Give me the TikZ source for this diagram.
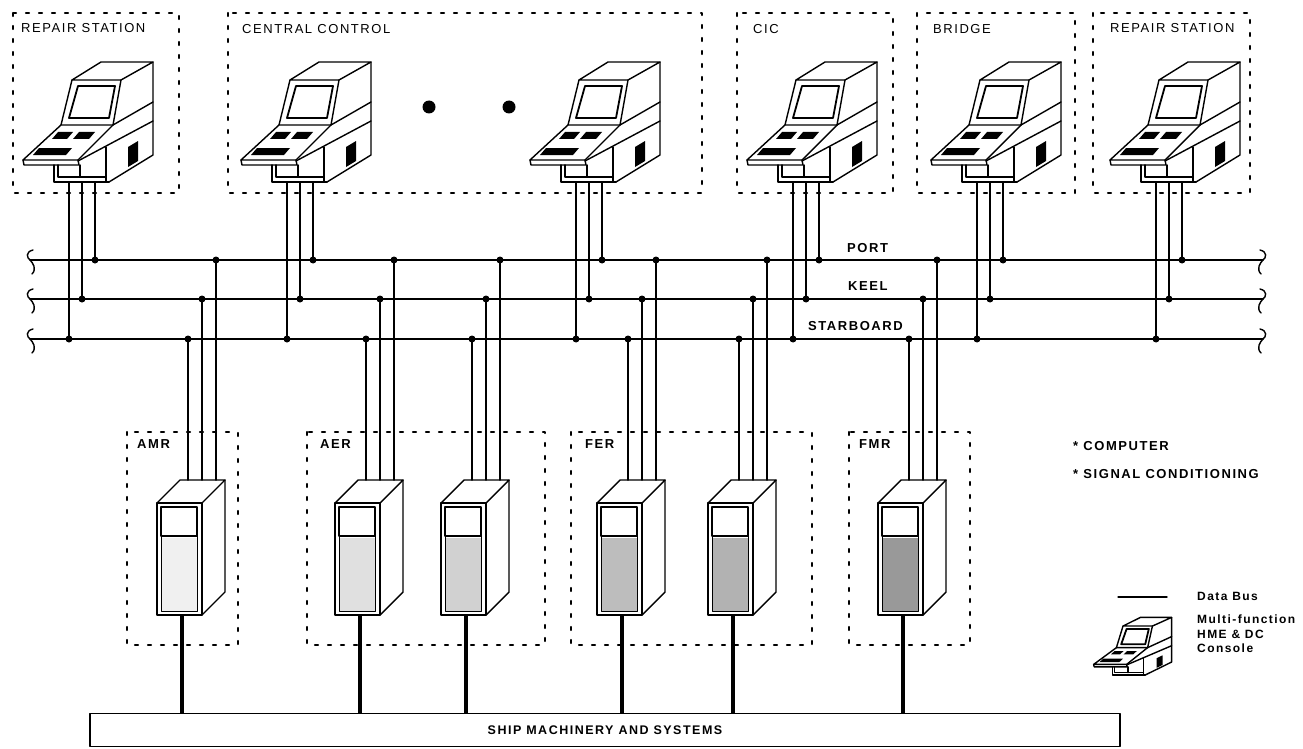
\documentclass[tikz,border=0pt]{standalone}
\usepackage{fontspec}
\setmainfont{Liberation Sans}
\newfontfamily\spaced[LetterSpace=12]{Liberation Sans}
\begin{document}
\begin{tikzpicture}[x=1pt,y=-1pt,line cap=round,line join=round,font=\spaced\fontsize{13}{15}\selectfont]
    \tikzstyle{con}=[line width=1.4pt]
    \tikzstyle{wire}=[line width=1.7pt]
    \tikzstyle{bus}=[line width=1.7pt]
    \tikzstyle{feed}=[line width=4.5pt,line cap=butt]
    \tikzstyle{zone}=[line width=2.2pt,dash pattern=on 3pt off 10pt]
    \tikzstyle{lbl}=[inner sep=0pt,anchor=base west]
    \tikzstyle{blbl}=[lbl,font=\spaced\bfseries\fontsize{13}{15}\selectfont]
    \tikzstyle{sblbl}=[lbl,font=\spaced\bfseries\fontsize{12}{14.5}\selectfont]
    \tikzset{
      console/.pic={
        % hood and screen
        \draw[con] (-10,-102) -- (19,-120) -- (71,-120) -- (39,-102) -- cycle;
        \draw[con] (-10,-102) -- (-21,-57) -- (31,-57) -- (39,-102);
        \draw[con,line width=1.8pt] (-4,-96) -- (33,-96) -- (27,-64) -- (-13,-64) -- cycle;
        % side and body
        \draw[con] (71,-120) -- (71,-27) -- (27,0);
        \draw[con] (31,-57) -- (71,-80);
        \draw[con] (-4,-21) -- (71,-61);
        \draw[con] (24,-35) -- (24,0);
        % desk
        \draw[con] (-21,-57) -- (-59,-22) -- (-4,-22) -- (31,-57);
        \draw[con] (-59,-22) -- (-58,-17) -- (-3,-17) -- (-4,-22);
        \fill (-24,-50) -- (-9,-50) -- (-15,-43) -- (-30,-43) -- cycle;
        \fill (-3,-50) -- (13,-50) -- (7,-43) -- (-9,-43) -- cycle;
        \fill (-43,-34) -- (-10,-34) -- (-16,-27) -- (-49,-27) -- cycle;
        % pedestal
        \draw[con] (-28,-17) -- (-28,0) -- (27,0);
        \draw[con] (-24,-17) -- (-24,-5) -- (24,-5);
        \draw[con] (-2,-17) -- (-2,-5);
        \fill (46,-35) -- (56,-41) -- (56,-21) -- (46,-15) -- cycle;
        \coordinate (-s) at (-13,0);
        \coordinate (-k) at (0,0);
        \coordinate (-p) at (13,0);
      },
      cabinet/.pic={
        \fill[black!#1] (-41,58) rectangle (-5,131);
        \draw[con] (-22,0) -- (23,0) -- (0,23) -- (-45,23) -- cycle;
        \draw[con] (-45,23) rectangle (0,135);
        \draw[con] (0,135) -- (23,112) -- (23,0);
        \draw[line width=0.9pt] (-41,27) rectangle (-5,131);
        \draw[con,line width=2.2pt] (-41,27) rectangle (-5,56);
        \coordinate (-s) at (-14,0);
        \coordinate (-k) at (0,0);
        \coordinate (-p) at (14,0);
        \coordinate (-b) at (-20,135);
      },
      brkl/.pic={\draw[con] (3,-10) .. controls (-5,-8) and (-3,-2) .. (0,0) .. controls (3,3) and (7,9) .. (2,14);},
      brkr/.pic={\draw[con] (-3,-10) .. controls (5,-8) and (3,-2) .. (0,0) .. controls (-3,3) and (-7,9) .. (-2,14);}
    }
    \useasboundingbox (0,0) rectangle (1303,749);

    % stations on top
    \draw[zone] (13,13) rectangle (179,193);
    \draw[zone] (228,13) rectangle (702,193);
    \draw[zone] (737,13) rectangle (893,193);
    \draw[zone] (917,13) rectangle (1075,193);
    \draw[zone] (1093,13) rectangle (1250,193);
    \node[lbl] (tRL) at (21,33) {REPAIR STATION};
    \node[lbl] (tCC) at (242,34) {CENTRAL CONTROL};
    \node[lbl] (tCIC) at (753,34) {CIC};
    \node[lbl] (tBR) at (933,34) {BRIDGE};
    \node[lbl] (tRR) at (1110,33) {REPAIR STATION};

    \pic (rl) at (82,182) {console};
    \pic (cc1) at (300,182) {console};
    \pic (cc2) at (589,182) {console};
    \pic (cic) at (806,182) {console};
    \pic (br) at (990,182) {console};
    \pic (rr) at (1169,182) {console};
    \fill (429,107) circle (6.5pt);
    \fill (509,107) circle (6.5pt);

    % data buses
    \coordinate (portL) at (30,260);
    \coordinate (portR) at (1263,260);
    \coordinate (keelL) at (30,299);
    \coordinate (keelR) at (1263,299);
    \coordinate (stbL) at (30,339);
    \coordinate (stbR) at (1263,339);
    \draw[bus] (portL) -- (portR);
    \draw[bus] (keelL) -- (keelR);
    \draw[bus] (stbL) -- (stbR);
    \pic at (portL) {brkl};
    \pic at (keelL) {brkl};
    \pic at (stbL) {brkl};
    \pic at (portR) {brkr};
    \pic at (keelR) {brkr};
    \pic at (stbR) {brkr};
    \node[blbl] (lPort) at (847,252) {PORT};
    \node[blbl] (lKeel) at (848,290) {KEEL};
    \node[blbl] (lStb) at (808,330) {STARBOARD};

    % machinery spaces
    \draw[zone] (127,432) rectangle (238,645);
    \draw[zone] (307,432) rectangle (545,645);
    \draw[zone] (571,432) rectangle (812,645);
    \draw[zone] (849,432) rectangle (970,645);
    \node[blbl] (lAMR) at (137,448) {AMR};
    \node[blbl] (lAER) at (320,448) {AER};
    \node[blbl] (lFER) at (585,448) {FER};
    \node[blbl] (lFMR) at (859,448) {FMR};

    \pic (amr) at (202,480) {cabinet=6};
    \pic (aer1) at (380,480) {cabinet=12};
    \pic (aer2) at (486,480) {cabinet=18};
    \pic (fer1) at (642,480) {cabinet=26};
    \pic (fer2) at (753,480) {cabinet=30};
    \pic (fmr) at (923,480) {cabinet=40};

    \foreach \u in {rl,cc1,cc2,cic,br,rr,amr,aer1,aer2,fer1,fer2,fmr}{
        \draw[wire] (\u-s) -- (\u-s |- stbL);
        \draw[wire] (\u-k) -- (\u-k |- keelL);
        \draw[wire] (\u-p) -- (\u-p |- portL);
        \fill (\u-s |- stbL) circle (3.5pt);
        \fill (\u-k |- keelL) circle (3.5pt);
        \fill (\u-p |- portL) circle (3.5pt);
    }

    \node[draw,line width=1.2pt,minimum width=1030pt,minimum height=33pt,inner sep=0pt,
          font=\spaced\bfseries\fontsize{12.5}{14}\selectfont] (ship) at (605,730) {SHIP MACHINERY AND SYSTEMS};
    \foreach \u in {amr,aer1,aer2,fer1,fer2,fmr}
        \draw[feed] (\u-b) -- (\u-b |- ship.north);

    % legend
    \node[blbl] (lCmp) at (1073,450) {* COMPUTER};
    \node[blbl] (lSig) at (1073,478) {* SIGNAL CONDITIONING};
    \coordinate (dbA) at (1118,597);
    \coordinate (dbB) at (1167,597);
    \draw[line width=1.3pt] (dbA) -- (dbB);
    \node[sblbl] (lBus) at (1197,600) {Data Bus};
    \node[sblbl,align=left,anchor=north west] (lCon) at (1197,615) {Multi-function\\HME \& DC\\Console};
    \pic[xscale=0.6,yscale=0.48] (icon) at (1129,675) {console};

\end{tikzpicture}
\end{document}
